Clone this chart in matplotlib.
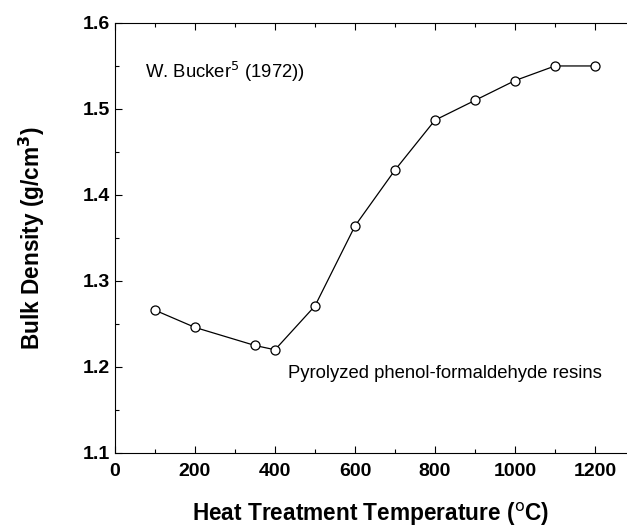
import matplotlib
matplotlib.use("Agg")
import matplotlib.pyplot as plt
from matplotlib.ticker import MultipleLocator

# heat treatment temperature (C) and bulk density (g/cm3)
temps = [100, 200, 350, 400, 500, 600, 700, 800, 900, 1000, 1100, 1200]
density = [1.266, 1.246, 1.225, 1.220, 1.271, 1.364, 1.429, 1.487, 1.510, 1.533, 1.550, 1.550]

x_ticks = [0, 200, 400, 600, 800, 1000, 1200]
y_ticks = [1.1, 1.2, 1.3, 1.4, 1.5, 1.6]

plt.rcParams['font.family'] = ['Liberation Sans', 'DejaVu Sans']

fig = plt.figure(figsize=(6.27, 5.29), dpi=100)
ax = fig.add_axes([0.1834, 0.1437, 0.8166, 0.8129])

ax.plot(temps, density, color='black', lw=0.9, marker='o', ms=6.5,
        mfc='white', mec='black', mew=0.9)

ax.set_xlim(0, 1280)
ax.set_ylim(1.1, 1.6)
ax.set_xticks(x_ticks)
ax.set_yticks(y_ticks)
ax.xaxis.set_minor_locator(MultipleLocator(100))
ax.yaxis.set_minor_locator(MultipleLocator(0.05))
ax.set_yticklabels(['%.1f' % v for v in y_ticks])
ax.spines['right'].set_visible(False)
ax.tick_params(which='both', direction='in', top=True, right=False, width=0.8)
ax.tick_params(which='major', length=5, labelsize=14)
ax.tick_params(axis='x', which='major', pad=7)
ax.tick_params(which='minor', length=3)
for lab in ax.get_xticklabels() + ax.get_yticklabels():
    lab.set_fontweight('bold')

ax.text(75, 1.543, r'W. Bucker$^5$ (1972))', fontsize=13.3, va='center')
ax.text(433, 1.192, 'Pyrolyzed phenol-formaldehyde resins', fontsize=13.3, va='center')

ax.set_xlabel(r'Heat Treatment Temperature ($^{\mathrm{o}}$C)', fontsize=16.3, fontweight='bold', labelpad=15)
ax.set_ylabel(r'Bulk Density (g/cm$^\mathbf{3}$)', fontsize=16.3, fontweight='bold', labelpad=26)

plt.savefig('out.png', dpi=100)
